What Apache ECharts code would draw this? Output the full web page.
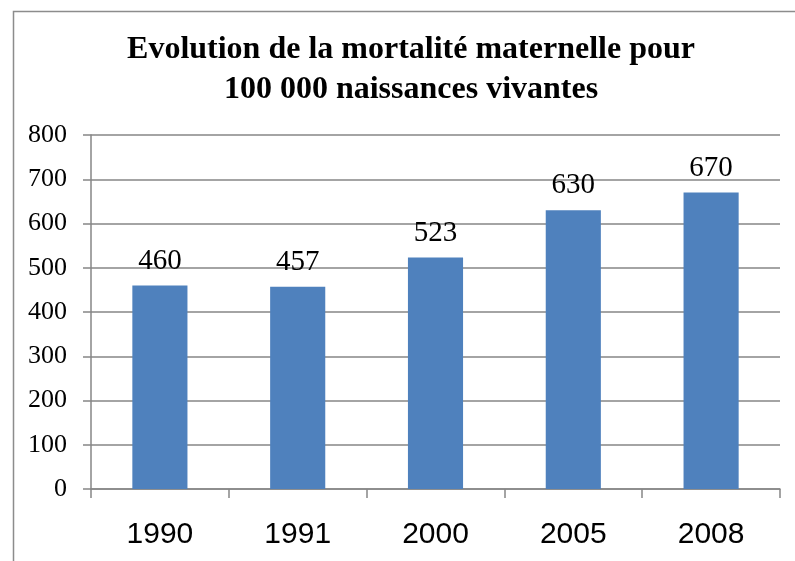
<!DOCTYPE html>
<html><head><meta charset="utf-8">
<script src="https://cdn.jsdelivr.net/npm/echarts@6/dist/echarts.min.js"></script>
<style>html,body{margin:0;padding:0;background:#fff}#c{width:795px;height:561px}</style>
</head><body><div id="c"></div>
<script>
const categories = ['1990', '1991', '2000', '2005', '2008'];
const values = [460, 457, 523, 630, 670];
const titleText = 'Evolution de la mortalité maternelle pour\n100 000 naissances vivantes';

const chart = echarts.init(document.getElementById('c'), null, {renderer: 'canvas'});
chart.setOption({
  animation: false,
  backgroundColor: '#fff',
  title: {
    text: titleText,
    left: 406, top: 25, textAlign: 'center',
    textStyle: {fontFamily: 'Liberation Serif', fontWeight: 'bold', fontSize: 32, lineHeight: 40, color: '#000'}
  },
  graphic: [{
    type: 'rect', left: 11, top: 9, silent: true,
    shape: {width: 820, height: 600},
    style: {fill: 'none', stroke: '#8c8c8c', lineWidth: 1.5}
  }],
  grid: {left: 91, right: 15, top: 135, bottom: 72, containLabel: false},
  xAxis: {
    type: 'category', data: categories,
    axisLine: {lineStyle: {color: '#868686', width: 1.5}},
    axisTick: {show: true, length: 9, alignWithLabel: false, lineStyle: {color: '#868686', width: 1.5}},
    axisLabel: {fontFamily: 'Liberation Sans', fontSize: 30, color: '#000', margin: 31}
  },
  yAxis: {
    type: 'value', min: 0, max: 800, interval: 100,
    axisLine: {show: true, lineStyle: {color: '#868686', width: 1.5}},
    axisTick: {show: true, length: 8, lineStyle: {color: '#868686', width: 1.5}},
    splitLine: {lineStyle: {color: '#868686', width: 1.5}},
    axisLabel: {fontFamily: 'Liberation Serif', fontSize: 26, color: '#000', margin: 24}
  },
  series: [{
    type: 'bar', data: values, barWidth: '40%',
    itemStyle: {color: '#4F81BD'},
    label: {show: true, position: 'top', distance: 10, fontFamily: 'Liberation Serif', fontSize: 29, color: '#000'}
  }]
});
</script></body></html>
